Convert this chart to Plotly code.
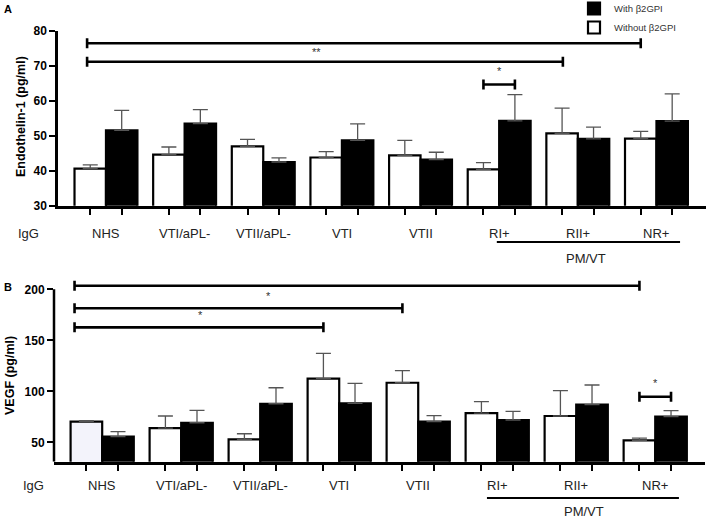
import plotly.graph_objects as go

# groups on the x axis
categories = ["NHS", "VTI/aPL-", "VTII/aPL-", "VTI", "VTII", "RI+", "RII+", "NR+"]
pm_vt_groups = ["RI+", "RII+", "NR+"]

# panel A: Endothelin-1 (pg/ml), mean and upper error
et1_without = [40.6, 44.6, 47.0, 43.8, 44.4, 40.4, 50.7, 49.2]
et1_without_err = [1.1, 2.2, 2.0, 1.7, 4.3, 1.9, 7.2, 2.1]
et1_with = [51.6, 53.5, 42.5, 48.7, 43.2, 54.3, 49.1, 54.2]
et1_with_err = [5.7, 4.0, 1.2, 4.7, 2.1, 7.5, 3.4, 7.8]

# panel B: VEGF (pg/ml)
vegf_without = [70.2, 64.0, 52.9, 112.4, 108.4, 78.7, 75.8, 52.0]
vegf_without_err = [1.0, 11.8, 5.5, 24.8, 11.8, 11.1, 24.8, 2.2]
vegf_with = [55.5, 69.2, 87.8, 88.2, 70.2, 71.9, 86.9, 75.1]
vegf_with_err = [4.9, 12.2, 15.7, 19.6, 5.9, 8.5, 19.3, 5.9]

# significance brackets: (x start, x end, level, label, label x, label y)
et1_sig = [
    (-0.24, 6.8, 76.5, "*", 3.33, 80.3),
    (-0.24, 5.81, 71.2, "**", 2.68, 74.1),
    (4.8, 5.2, 64.7, "*", 5.0, 68.6),
]
vegf_sig = [
    (-0.35, 6.8, 203.5, "*", 3.2, 214.0),
    (-0.35, 3.8, 181.4, "*", 2.1, 193.7),
    (-0.35, 2.8, 162.7, "*", 1.24, 174.8),
    (6.8, 7.2, 94.7, "*", 7.0, 107.8),
]

FONT = "Liberation Sans, Arial, sans-serif"
W, H = 708, 518

fig = go.Figure()


def note(fig, x, y, text, xref="paper", yref="paper", size=13, color="#222222", angle=0):
    fig.add_annotation(x=x, y=y, xref=xref, yref=yref, text=text, showarrow=False,
                       xanchor="center", yanchor="middle", textangle=angle,
                       font=dict(size=size, color=color, family=FONT))


def add_panel(fig, xa, ya, without, without_err, with_, with_err, sig, cap, legend, white_first=None):
    n = len(categories)
    xs = list(range(n))
    white_fill = ["white"] * n
    if white_first:
        white_fill[0] = white_first
    fig.add_trace(go.Bar(
        x=xs, y=without, name="Without β2GPI", xaxis=xa, yaxis=ya,
        marker=dict(color=white_fill, line=dict(color="black", width=2.2)),
        error_y=dict(type="data", array=without_err, arrayminus=[0] * n, symmetric=False,
                     color="#555555", thickness=1.3, width=7.5),
        showlegend=legend, legendrank=2,
    ))
    fig.add_trace(go.Bar(
        x=xs, y=with_, name="With β2GPI", xaxis=xa, yaxis=ya,
        marker=dict(color="black", line=dict(color="black", width=2.2)),
        error_y=dict(type="data", array=with_err, arrayminus=[0] * n, symmetric=False,
                     color="#555555", thickness=1.3, width=7.5),
        showlegend=legend, legendrank=1,
    ))
    for x0, x1, lvl, label, lx, ly in sig:
        fig.add_trace(go.Scatter(
            x=[x0, x0, None, x0, x1, None, x1, x1],
            y=[lvl - cap, lvl + cap, None, lvl, lvl, None, lvl - cap, lvl + cap],
            mode="lines", line=dict(color="black", width=2.6),
            xaxis=xa, yaxis=ya, showlegend=False, hoverinfo="skip",
        ))
        note(fig, lx, ly, label, xref=xa, yref=ya, size=11, color="#333333")


add_panel(fig, "x", "y", et1_without, et1_without_err, et1_with, et1_with_err,
          et1_sig, 1.45, True)
add_panel(fig, "x2", "y2", vegf_without, vegf_without_err, vegf_with, vegf_with_err,
          vegf_sig, 4.9, False, white_first="#f3f3fb")

tickvals = [i + d for i in range(len(categories)) for d in (-0.2, 0.2)]
xcommon = dict(range=[-0.61, 7.63], showline=True, linewidth=2.5, linecolor="black",
               ticks="outside", ticklen=7, tickwidth=2, tickcolor="black",
               tickvals=tickvals, showticklabels=False, showgrid=False, zeroline=False,
               automargin=False)
ycommon = dict(ticks="outside", ticklen=6, tickwidth=2.2, tickcolor="black",
               showgrid=False, zeroline=False, automargin=False,
               tickfont=dict(size=12, family=FONT, color="black", weight="bold"))

fig.update_layout(
    width=W, height=H,
    margin=dict(l=0, r=0, t=0, b=0, pad=0, autoexpand=False),
    paper_bgcolor="white", plot_bgcolor="white",
    barmode="group", bargap=0.2, bargroupgap=0,
    font=dict(family=FONT, color="black"),
    xaxis=dict(domain=[58 / W, 706 / W], anchor="y", **xcommon),
    yaxis=dict(domain=[1 - 205.7 / H, 1 - 31 / H], anchor="x", range=[30, 80],
               tickvals=[30, 40, 50, 60, 70, 80], showline=True, linewidth=2.5,
               linecolor="black", **ycommon),
    xaxis2=dict(domain=[54 / W, 705 / W], anchor="y2", **xcommon),
    yaxis2=dict(domain=[1 - 461.7 / H, 1 - 279.1 / H], anchor="x2", range=[31, 210],
                tickvals=[50, 100, 150, 200], showline=False, **ycommon),
    legend=dict(x=574 / W, y=1 + 6 / H, xanchor="left", yanchor="top",
                font=dict(size=9.5, color="#333333", family=FONT),
                bgcolor="rgba(0,0,0,0)", tracegroupgap=0),
)

# y axis line of panel B stops at the 200 tick
fig.add_shape(type="line", xref="paper", yref="y2", x0=54 / W, x1=54 / W, y0=31, y1=200,
              line=dict(color="black", width=2.5))

# category labels, IgG, PM/VT group line
for xa, ypix, igg_x, line_x0, line_y, pm_y in [("x", 233, 28, 4.97, 242, 258),
                                                ("x2", 485, 33, 4.87, 498, 511)]:
    for i, cat in enumerate(categories):
        note(fig, i, 1 - ypix / H, cat, xref=xa)
    note(fig, igg_x / W, 1 - ypix / H, "IgG")
    last = categories.index(pm_vt_groups[-1])
    first = categories.index(pm_vt_groups[0])
    fig.add_shape(type="line", xref=xa, yref="paper", x0=line_x0, x1=last + 0.3,
                  y0=1 - line_y / H, y1=1 - line_y / H, line=dict(color="black", width=1.8))
    note(fig, (first + last) / 2 + 0.1, 1 - pm_y / H, "PM/VT", xref=xa)

# axis titles and panel letters
note(fig, 21 / W, 1 - 117 / H, "<b>Endothelin-1 (pg/ml)</b>", size=12.5, color="black", angle=-90)
note(fig, 10 / W, 1 - 376 / H, "<b>VEGF (pg/ml)</b>", size=12.5, color="black", angle=-90)
note(fig, 7.5 / W, 1 - 9 / H, "<b>A</b>", size=11, color="black")
note(fig, 7.5 / W, 1 - 287 / H, "<b>B</b>", size=11, color="black")

# the page body has a default 8px margin; drop it so the figure fills the window
fig.write_html("out.html", config={"displayModeBar": False},
               post_script="document.body.style.margin = '0';")
